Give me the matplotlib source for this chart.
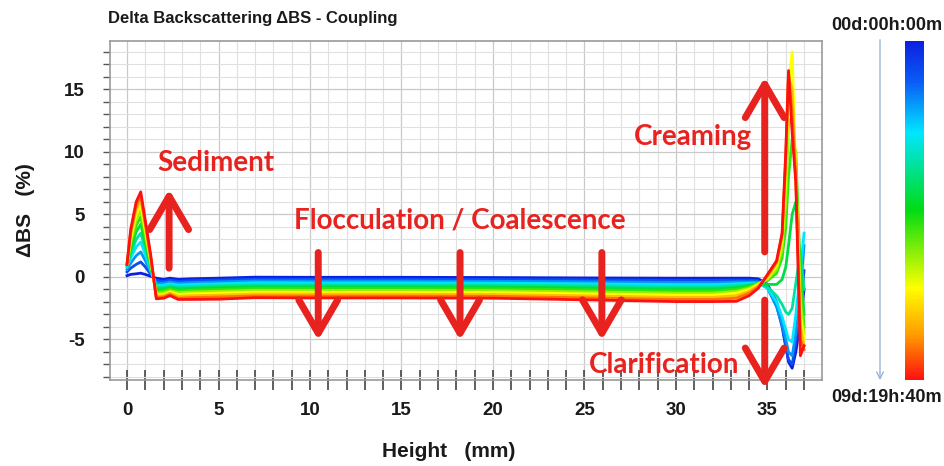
import matplotlib
matplotlib.use('Agg')
import matplotlib as mpl
import matplotlib.pyplot as plt
from matplotlib.colors import LinearSegmentedColormap, Normalize
from matplotlib.ticker import MultipleLocator
from matplotlib.patches import FancyArrowPatch

# measuring heights (mm)
heights = [0.0, 0.2, 0.5, 0.75, 1.0, 1.3, 1.6, 2.0, 2.35, 2.8, 3.5, 5.0, 7.0,
           10.0, 15.0, 20.0, 25.0, 30.0, 32.0,
           33.3, 34.0, 34.5, 35.0, 35.5, 35.8, 36.0, 36.15, 36.35, 36.55, 36.8, 37.0]

# scan times (hours), 00d:00h:00m .. 09d:19h:40m
scan_hours = [0, 21.4, 42.8, 64.3, 85.7, 107.1, 128.5, 150.0, 171.4, 192.8, 214.2, 235.67]

# delta backscattering (%) for each scan, read at the heights above
delta_bs = [
    [0.1, 0.2, 0.25, 0.3, 0.2, 0.05, -0.1, -0.2, -0.1, -0.2, -0.15, -0.1, -0.02,
     -0.03, -0.03, -0.05, -0.08, -0.1, -0.1,
     -0.1, -0.1, -0.15, -0.6, -2.0, -3.8, -5.5, -6.8, -7.3, -6.0, -3.5, -1.0],
    [0.4, 0.7, 1.0, 1.2, 0.8, 0.2, -0.3, -0.35, -0.25, -0.35, -0.3, -0.25, -0.17,
     -0.18, -0.18, -0.2, -0.23, -0.27, -0.27,
     -0.25, -0.25, -0.3, -0.8, -2.3, -4.0, -5.6, -6.6, -7.0, -5.2, -2.5, 0.5],
    [0.6, 1.1, 1.7, 2.0, 1.3, 0.35, -0.5, -0.5, -0.4, -0.5, -0.45, -0.4, -0.32,
     -0.33, -0.33, -0.35, -0.39, -0.44, -0.44,
     -0.4, -0.4, -0.4, -0.9, -2.4, -3.8, -5.0, -6.0, -6.3, -4.5, -1.0, 2.5],
    [0.8, 1.5, 2.4, 2.8, 1.8, 0.5, -0.7, -0.65, -0.55, -0.65, -0.6, -0.55, -0.47,
     -0.48, -0.48, -0.5, -0.55, -0.61, -0.61,
     -0.55, -0.5, -0.5, -0.9, -2.0, -3.2, -4.2, -5.0, -5.2, -3.0, 0.5, 3.5],
    [0.9, 1.8, 3.0, 3.5, 2.3, 0.65, -0.85, -0.8, -0.7, -0.8, -0.75, -0.7, -0.62,
     -0.63, -0.63, -0.65, -0.71, -0.78, -0.78,
     -0.7, -0.6, -0.55, -0.8, -1.5, -2.2, -2.8, -3.0, -2.5, -0.5, 2.0, -1.0],
    [1.0, 2.2, 3.6, 4.2, 2.7, 0.8, -1.0, -0.95, -0.85, -0.95, -0.9, -0.85, -0.77,
     -0.78, -0.78, -0.8, -0.87, -0.95, -0.95,
     -0.85, -0.7, -0.55, -0.6, -0.6, -0.2, 0.8, 2.5, 5.0, 6.0, 1.0, -3.0],
    [1.0, 2.5, 4.1, 4.8, 3.1, 0.95, -1.15, -1.1, -0.95, -1.1, -1.05, -1.0, -0.92,
     -0.93, -0.93, -0.95, -1.03, -1.12, -1.12,
     -1.0, -0.8, -0.5, -0.3, 0.3, 1.5, 4.0, 8.0, 11.0, 10.0, 0.0, -4.0],
    [1.0, 2.8, 4.6, 5.3, 3.5, 1.1, -1.3, -1.25, -1.1, -1.25, -1.2, -1.15, -1.07,
     -1.08, -1.08, -1.1, -1.19, -1.29, -1.29,
     -1.15, -0.9, -0.55, -0.2, 0.6, 2.2, 6.0, 12.0, 13.0, 9.0, -2.0, -4.5],
    [1.0, 3.1, 5.0, 5.8, 3.8, 1.25, -1.45, -1.4, -1.2, -1.4, -1.35, -1.3, -1.22,
     -1.23, -1.23, -1.25, -1.35, -1.46, -1.46,
     -1.3, -1.0, -0.6, -0.1, 0.9, 2.8, 8.0, 15.0, 18.0, 8.0, -3.0, -5.0],
    [1.0, 3.4, 5.4, 6.2, 4.1, 1.4, -1.55, -1.5, -1.3, -1.55, -1.5, -1.45, -1.37,
     -1.38, -1.38, -1.4, -1.51, -1.63, -1.63,
     -1.5, -1.15, -0.7, 0.0, 1.1, 3.2, 9.0, 16.0, 15.0, 8.0, -4.0, -5.5],
    [1.0, 3.6, 5.7, 6.5, 4.3, 1.55, -1.65, -1.6, -1.4, -1.7, -1.65, -1.6, -1.52,
     -1.53, -1.53, -1.55, -1.67, -1.8, -1.8,
     -1.7, -1.3, -0.8, 0.1, 1.2, 3.4, 9.5, 16.3, 13.0, 7.8, -5.0, -5.8],
    [1.0, 3.8, 6.0, 6.8, 4.5, 1.7, -1.75, -1.7, -1.5, -1.8, -1.8, -1.78, -1.66,
     -1.68, -1.68, -1.7, -1.83, -1.97, -1.97,
     -1.95, -1.5, -0.9, 0.2, 1.3, 3.5, 10.0, 16.5, 11.5, 7.5, -6.3, -5.5],
]

time_labels = ['00d:00h:00m', '09d:19h:40m']

# annotation text, (x, y) of text, arrows as (x, y tail, y tip)
notes = ['Sediment', 'Flocculation / Coalescence', 'Creaming', 'Clarification']
note_pos = [(4.86, 9.1), (18.2, 4.55), (30.95, 11.2), (29.35, -7.05)]
arrows = [(2.3, 0.7, 7.0), (10.45, 1.95, -5.05), (18.2, 1.95, -5.05),
          (25.95, 1.95, -5.05), (34.85, 2.0, 15.95), (34.85, -1.85, -8.9)]

red = '#e8221e'
cmap = LinearSegmentedColormap.from_list('scans', [
    (0.0, '#0b1fe0'), (0.12, '#0a5cf5'), (0.27, '#00e6ff'), (0.5, '#00dc12'),
    (0.73, '#ffff00'), (0.87, '#ff9a00'), (1.0, '#ff1010')])
norm = Normalize(scan_hours[0], scan_hours[-1])

plt.rcParams['font.family'] = ['Liberation Sans', 'DejaVu Sans']
plt.rcParams['axes.unicode_minus'] = False

fig = plt.figure(figsize=(9.44, 4.66), dpi=100)
ax = fig.add_axes([110 / 944, 86 / 466, 712 / 944, 339.5 / 466])

for t, vals in zip(scan_hours, delta_bs):
    ax.plot(heights, vals, color=cmap(norm(t)), lw=2.0, solid_joinstyle='round')

ax.set_xlim(-0.93, 37.98)
ax.set_ylim(-8.24, 18.9)
ax.xaxis.set_major_locator(MultipleLocator(5))
ax.xaxis.set_minor_locator(MultipleLocator(1))
ax.yaxis.set_major_locator(MultipleLocator(5))
ax.yaxis.set_minor_locator(MultipleLocator(1))
ax.grid(which='major', color='#c9c9c9', lw=0.9)
ax.grid(which='minor', color='#e0e0e0', lw=0.8)
ax.set_axisbelow(True)

ax.tick_params(axis='x', which='both', direction='inout', length=14, width=1.2,
               color='#444444', pad=9)
ax.tick_params(axis='y', which='both', direction='out', length=5, width=1.0,
               color='#555555', pad=13)
for lab in ax.get_xticklabels() + ax.get_yticklabels():
    lab.set_fontsize(13.5)
    lab.set_fontweight('bold')
    lab.set_color('#1a1a1a')
for s in ax.spines.values():
    s.set_color('#9a9a9a')
    s.set_linewidth(1.2)

ax.set_xlabel('Height   (mm)', fontsize=15, fontweight='bold', color='#1a1a1a',
              va='center')
ax.xaxis.set_label_coords(0.476, -0.212)
ax.set_ylabel('ΔBS   (%)', fontsize=15, fontweight='bold', color='#1a1a1a',
              va='center')
ax.yaxis.set_label_coords(-0.118, 0.5)

fig.text(108 / 944, 1 - 18 / 466, 'Delta Backscattering ΔBS - Coupling',
         fontsize=12, fontweight='bold', va='center', ha='left', color='#1a1a1a')

# red annotations
for txt, (x, y) in zip(notes, note_pos):
    ax.text(x, y, txt, color=red, fontsize=20, fontweight='bold',
            family=['Lato', 'DejaVu Sans'], ha='center', va='center')
for x, y0, y1 in arrows:
    ax.annotate('', xy=(x, y1), xytext=(x, y0), annotation_clip=False,
                arrowprops=dict(arrowstyle='->,head_length=1.2,head_width=0.7',
                                mutation_scale=20, lw=5, color=red,
                                shrinkA=0, shrinkB=0))

# time scale on the right
cax = fig.add_axes([905 / 944, 86 / 466, 19 / 944, 339.5 / 466])
cb = mpl.colorbar.ColorbarBase(cax, cmap=cmap, norm=norm, orientation='vertical')
cax.invert_yaxis()
cb.outline.set_visible(False)
cb.set_ticks([])
fig.add_artist(FancyArrowPatch((880 / 944, 1 - 37 / 466), (880 / 944, 1 - 383 / 466),
                               transform=fig.transFigure, arrowstyle='->',
                               mutation_scale=12, color='#9db3d4', lw=1.0))
fig.text(887 / 944, 1 - 26 / 466, time_labels[0], ha='center', va='center',
         fontsize=13, fontweight='bold', color='#1a1a1a')
fig.text(887 / 944, 1 - 398 / 466, time_labels[1], ha='center', va='center',
         fontsize=13, fontweight='bold', color='#1a1a1a')

fig.savefig('out.png', dpi=100)
